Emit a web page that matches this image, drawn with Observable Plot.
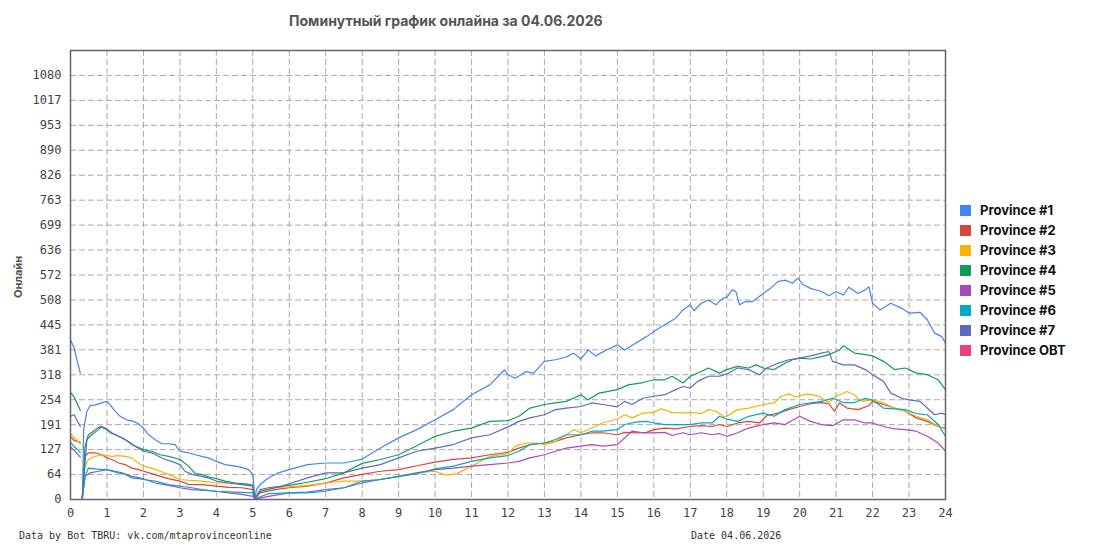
<!DOCTYPE html>
<html><head><meta charset="utf-8">
<script src="https://cdn.jsdelivr.net/npm/d3@7"></script>
<script src="https://cdn.jsdelivr.net/npm/@observablehq/plot@0.6"></script>
<style>
body{margin:0;background:#fff;}
#wrap{position:relative;width:1095px;height:550px;overflow:hidden;background:#fff;}
#title{position:absolute;left:289px;top:12px;font:bold 14px Inter, "Noto Sans", sans-serif;color:#555;white-space:nowrap;}
#ylab{position:absolute;left:11px;top:277px;transform:translate(-50%,-50%) rotate(-90deg);transform-origin:center;font:bold 11px Inter, "Noto Sans", sans-serif;color:#555;white-space:nowrap;margin-left:7px;}
#legend{position:absolute;left:960px;top:200px;font:bold 13px Inter, "Noto Sans", sans-serif;color:#111;}
#legend .row{display:flex;align-items:center;height:20px;white-space:nowrap;}
#legend .sw{width:11px;height:11px;margin-right:9px;}
.foot{position:absolute;top:530px;font:10px "DejaVu Sans Mono", monospace;color:#333;white-space:nowrap;}
</style></head><body>
<div id="wrap">
  <div id="title">Поминутный график онлайна за 04.06.2026</div>
  <div id="ylab">Онлайн</div>
  <div id="legend"></div>
  <div class="foot" style="left:19px">Data by Bot TBRU: vk.com/mtaprovinceonline</div>
  <div class="foot" style="left:691px">Date 04.06.2026</div>
</div>
<script>
const seriesNames = ["Province #1","Province #2","Province #3","Province #4","Province #5","Province #6","Province #7","Province OBT"];
const seriesColors = ["#4285f4","#db4437","#f4b400","#0f9d58","#ab47bc","#00acc1","#5c6bc0","#ec407a"];
const hourTicks = [0,1,2,3,4,5,6,7,8,9,10,11,12,13,14,15,16,17,18,19,20,21,22,23,24];
const yMax = 1144;
const yTicks = [0,1,2,3,4,5,6,7,8,9,10,11,12,13,14,15,16,17].map(k => k * yMax / 18);

// [hour, online]; null = gap in data
const p1 = [[0,407],[0.1,386],[0.2,347],[0.27,322],[0.29,null],[0.33,0],[0.36,178],[0.45,225],[0.54,239],[0.68,241],[0.86,246],[1.0,250],[1.09,241],[1.22,225],[1.36,212],[1.54,203],[1.73,199],[1.86,193],[2.0,182],[2.14,165],[2.32,153],[2.5,142],[2.69,142],[2.87,140],[3.0,123],[3.24,119],[3.42,114],[3.6,110],[3.78,106],[4.0,97],[4.24,89],[4.52,85],[4.7,82],[4.88,76],[5.0,64],[5.06,2],[5.1,25],[5.2,38],[5.43,55],[5.7,68],[6.0,76],[6.5,89],[7,93],[7.5,93],[8,103],[8.5,131],[9,157],[9.5,178],[10,203],[10.5,229],[11,267],[11.5,292],[11.9,330],[12,318],[12.2,309],[12.5,326],[12.7,322],[13,352],[13.3,356],[13.6,363],[13.8,373],[14,358],[14.2,381],[14.4,366],[14.7,381],[15,394],[15.2,381],[15.5,398],[15.8,415],[16,428],[16.3,445],[16.6,462],[16.8,483],[17,496],[17.1,481],[17.3,500],[17.5,508],[17.7,496],[17.9,513],[18,515],[18.15,534],[18.25,530],[18.35,496],[18.5,504],[18.7,504],[19,525],[19.2,538],[19.4,555],[19.6,559],[19.8,551],[19.95,564],[20.1,547],[20.3,538],[20.6,530],[20.8,519],[21,530],[21.2,521],[21.35,541],[21.6,525],[21.8,534],[21.9,542],[22,500],[22.2,483],[22.5,500],[22.8,487],[23,475],[23.3,477],[23.5,458],[23.7,424],[23.9,415],[24,398]];
const p2 = [[0,160],[0.1,150],[0.27,146],[0.29,null],[0.32,0],[0.4,110],[0.49,119],[0.68,119],[0.86,114],[1.0,106],[1.13,102],[1.32,93],[1.5,89],[1.68,80],[1.86,76],[2.0,72],[2.23,66],[2.46,59],[2.69,53],[3.0,47],[3.24,38],[3.6,38],[4.0,34],[4.33,31],[4.7,30],[5.0,25],[5.06,2],[5.2,17],[5.61,25],[6.0,30],[6.5,34],[7,42],[7.5,55],[8,64],[8.5,72],[9,76],[9.5,86],[10,95],[10.5,102],[11,106],[11.5,114],[12,120],[12.3,131],[12.6,140],[13,144],[13.3,148],[13.6,157],[14,165],[14.3,170],[14.6,170],[15,165],[15.2,171],[15.5,170],[15.8,171],[16,178],[16.3,182],[16.6,180],[17,186],[17.3,188],[17.6,186],[17.8,191],[18,186],[18.3,195],[18.6,199],[18.9,195],[19.1,214],[19.4,220],[19.7,229],[20,237],[20.3,244],[20.6,247],[20.8,244],[20.95,225],[21.1,246],[21.3,233],[21.6,229],[21.9,239],[22,250],[22.3,242],[22.6,233],[22.9,225],[23.2,208],[23.5,199],[23.8,186],[24,182]];
const p3 = [[0,168],[0.1,158],[0.27,142],[0.29,null],[0.31,0],[0.4,85],[0.49,102],[0.68,110],[0.86,114],[1.0,112],[1.13,110],[1.32,112],[1.5,110],[1.68,106],[1.86,93],[2.0,85],[2.23,80],[2.46,72],[2.69,64],[3.0,51],[3.24,49],[3.6,47],[4.0,42],[4.33,42],[4.7,40],[5.0,38],[5.06,2],[5.2,21],[5.61,30],[6.0,32],[6.5,36],[7,42],[7.5,47],[8,47],[8.5,51],[9,59],[9.5,68],[10,72],[10.3,62],[10.6,66],[11,85],[11.5,110],[12,116],[12.2,136],[12.5,144],[12.8,144],[13,140],[13.3,148],[13.6,165],[13.8,178],[14,170],[14.3,182],[14.6,195],[15,205],[15.2,216],[15.4,208],[15.7,220],[16,222],[16.2,231],[16.5,222],[16.8,220],[17,222],[17.3,219],[17.5,229],[17.7,225],[17.9,212],[18,212],[18.3,229],[18.6,233],[19,242],[19.3,246],[19.5,263],[19.7,269],[19.9,261],[20.2,269],[20.5,264],[20.8,247],[21,263],[21.3,275],[21.5,267],[21.7,250],[22,254],[22.3,246],[22.6,233],[22.9,225],[23.2,212],[23.5,203],[23.8,186],[24,180]];
const p4 = [[0,273],[0.1,261],[0.27,227],[0.29,null],[0.32,0],[0.4,136],[0.49,165],[0.63,174],[0.81,186],[0.9,182],[1.0,178],[1.09,170],[1.22,165],[1.41,157],[1.59,148],[1.77,136],[2.0,127],[2.23,123],[2.46,114],[2.69,110],[3.0,102],[3.24,85],[3.42,66],[3.6,64],[3.78,58],[4.0,53],[4.24,47],[4.52,42],[4.79,40],[5.0,36],[5.06,2],[5.2,21],[5.8,34],[6.0,36],[6.5,44],[7,53],[7.5,68],[8,92],[8.5,102],[9,114],[9.5,137],[10,161],[10.5,174],[11,182],[11.5,199],[12,201],[12.3,212],[12.6,233],[13,242],[13.3,246],[13.6,250],[14,267],[14.2,254],[14.5,271],[15,280],[15.3,292],[15.7,298],[16,305],[16.3,305],[16.5,314],[16.8,297],[17,314],[17.3,326],[17.5,335],[17.8,322],[18,331],[18.3,339],[18.6,335],[18.8,343],[19,335],[19.3,331],[19.6,347],[19.8,356],[20,360],[20.3,358],[20.6,364],[20.8,369],[21,377],[21.1,381],[21.2,392],[21.5,373],[21.8,369],[22,366],[22.3,352],[22.6,331],[22.9,335],[23.2,322],[23.5,318],[23.8,305],[24,280]];
const p5 = [[0,134],[0.1,125],[0.27,108],[0.29,null],[0.32,0],[0.4,59],[0.54,68],[0.77,72],[1.0,76],[1.22,72],[1.41,68],[1.68,59],[2.0,53],[2.32,42],[2.69,36],[3.0,30],[3.33,25],[3.6,24],[4.0,21],[4.33,17],[4.7,13],[5.0,8],[5.06,1],[5.43,8],[6.0,17],[6.5,19],[7,25],[7.5,30],[8,42],[8.5,51],[9,59],[9.5,68],[10,76],[10.5,80],[11,85],[11.5,89],[12,93],[12.3,97],[12.6,106],[13,114],[13.3,123],[13.6,131],[14,136],[14.3,140],[14.6,136],[15,140],[15.2,157],[15.4,174],[15.7,170],[16,170],[16.3,171],[16.5,163],[16.8,170],[17,165],[17.3,170],[17.6,165],[17.8,168],[18,161],[18.3,170],[18.6,182],[19,191],[19.3,195],[19.6,191],[20,212],[20.3,199],[20.6,191],[20.9,188],[21.2,203],[21.5,203],[21.8,195],[22,195],[22.3,186],[22.6,180],[22.9,178],[23.2,174],[23.5,161],[23.8,144],[24,123]];
const p6 = [[0,146],[0.1,135],[0.27,120],[0.29,null],[0.32,0],[0.4,59],[0.49,80],[0.68,78],[0.86,76],[1.0,76],[1.13,72],[1.32,68],[1.5,64],[1.68,55],[1.86,53],[2.0,51],[2.32,47],[2.69,38],[3.0,34],[3.33,30],[3.6,25],[4.0,21],[4.52,19],[5.0,17],[5.06,2],[5.43,15],[6.0,17],[6.5,17],[7,21],[7.5,30],[8,47],[8.5,51],[9,59],[9.5,65],[10,78],[10.5,85],[11,97],[11.5,106],[12,112],[12.3,123],[12.6,140],[13,144],[13.3,153],[13.6,165],[14,165],[14.3,174],[14.6,174],[15,178],[15.2,191],[15.5,197],[15.8,199],[16,195],[16.3,191],[16.6,191],[17,191],[17.3,195],[17.6,195],[17.8,212],[18,205],[18.3,199],[18.6,212],[19,220],[19.3,212],[19.6,229],[20,242],[20.3,246],[20.6,250],[20.9,258],[21.2,247],[21.5,247],[21.8,258],[22,253],[22.3,233],[22.6,231],[22.9,229],[23.2,219],[23.5,216],[23.8,191],[24,161]];
const p7 = [[0,212],[0.1,216],[0.27,186],[0.29,null],[0.32,0],[0.45,153],[0.585,165],[0.77,178],[0.86,186],[1.0,180],[1.13,170],[1.32,161],[1.5,153],[1.68,140],[1.86,131],[2.0,123],[2.23,119],[2.41,110],[2.6,102],[2.78,97],[3.0,89],[3.14,72],[3.33,64],[3.6,59],[3.78,55],[4.0,47],[4.33,42],[4.7,38],[5.0,34],[5.06,2],[5.2,25],[5.43,30],[5.8,34],[6.0,40],[6.5,55],[7,68],[7.5,68],[8,80],[8.5,89],[9,106],[9.5,123],[10,131],[10.5,140],[11,157],[11.5,165],[12,185],[12.3,199],[12.6,208],[13,216],[13.3,229],[13.6,233],[14,237],[14.3,246],[14.6,242],[15,236],[15.2,250],[15.4,242],[15.7,258],[16,263],[16.3,267],[16.6,280],[16.8,288],[17,284],[17.2,301],[17.5,314],[17.8,314],[18,320],[18.3,335],[18.6,331],[18.9,318],[19.1,335],[19.4,347],[19.7,356],[20,360],[20.3,366],[20.6,373],[20.8,377],[20.9,352],[21.2,343],[21.5,343],[21.8,331],[22,318],[22.3,301],[22.5,271],[22.8,258],[23,254],[23.3,250],[23.5,233],[23.7,216],[23.9,220],[24,216]];
const pOBT = [];

const seriesData = [p1,p2,p3,p4,p5,p6,p7,pOBT];

const lines = seriesData.map((data, i) => Plot.line(data, {
  x: d => d[0],
  y: d => d[1] == null ? NaN : d[1],
  stroke: seriesColors[i],
  strokeWidth: 1.2
}));

const chart = Plot.plot({
  width: 1095, height: 550,
  marginLeft: 70, marginRight: 150, marginTop: 50, marginBottom: 51,
  x: {domain: [0, 24]},
  y: {domain: [0, yMax]},
  style: {fontFamily: "'DejaVu Sans Mono', monospace", fontSize: "12px", color: "#444", background: "transparent"},
  marks: [
    Plot.gridX(hourTicks, {stroke: "#aaa", strokeOpacity: 1, strokeDasharray: "6,3"}),
    Plot.gridY(yTicks, {stroke: "#aaa", strokeOpacity: 1, strokeDasharray: "6,3"}),
    ...lines,
    Plot.axisX(hourTicks, {tickSize: 0, tickPadding: 9, label: null, tickFormat: d => String(d)}),
    Plot.axisY(yTicks, {tickSize: 0, tickPadding: 9, label: null, tickFormat: d => String(Math.round(d))}),
    Plot.frame({stroke: "#666", strokeWidth: 1.5})
  ]
});
const wrap = document.getElementById("wrap");
wrap.insertBefore(chart, wrap.firstChild);

const legend = document.getElementById("legend");
seriesNames.forEach((n, i) => {
  const row = document.createElement("div");
  row.className = "row";
  row.innerHTML = `<div class="sw" style="background:${seriesColors[i]}"></div><span>${n}</span>`;
  legend.appendChild(row);
});
</script>
</body></html>
